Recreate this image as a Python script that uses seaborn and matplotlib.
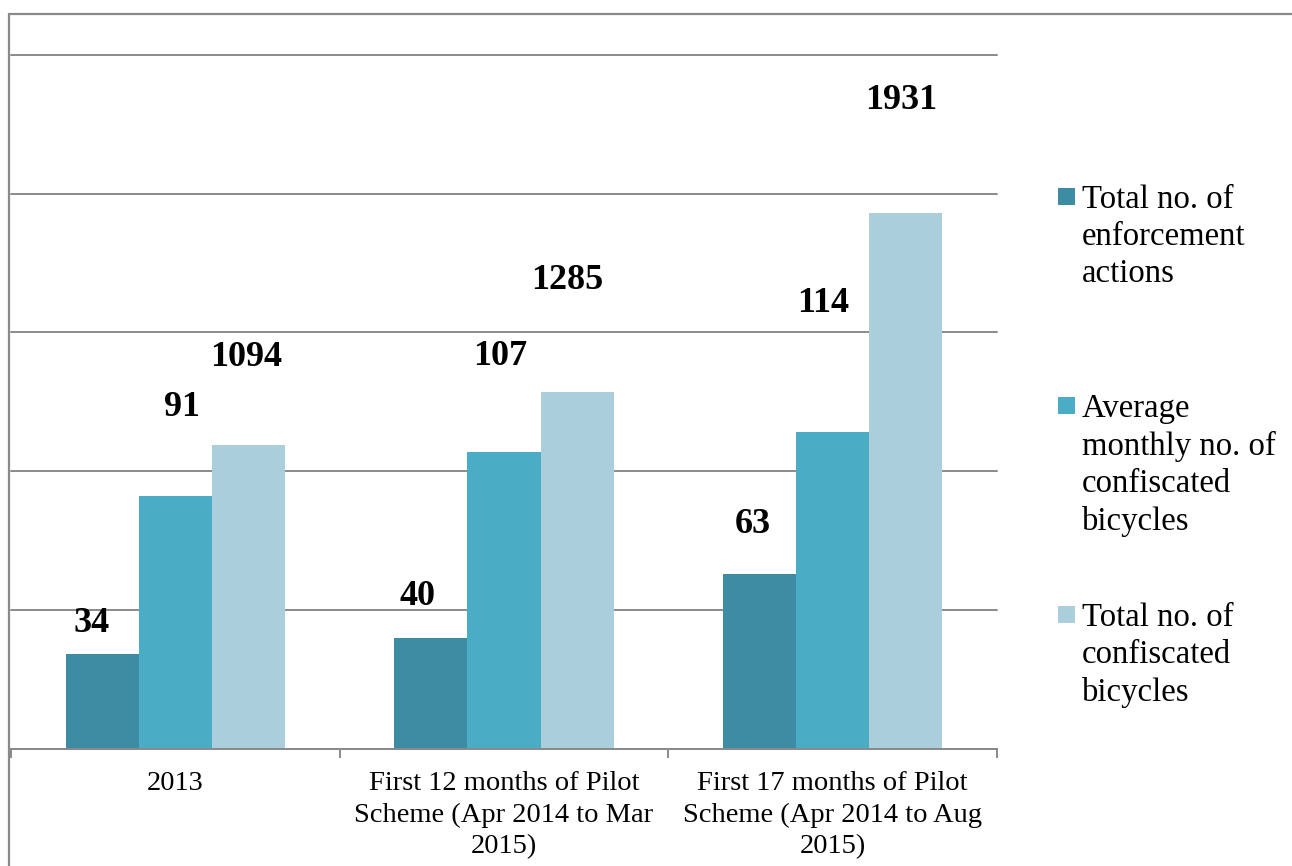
import pandas as pd
import seaborn as sns
import matplotlib.pyplot as plt
from matplotlib.patches import Rectangle
from matplotlib.lines import Line2D

# ---- data -------------------------------------------------------------
categories = [
    "2013",
    "First 12 months of Pilot\nScheme (Apr 2014 to Mar\n2015)",
    "First 17 months of Pilot\nScheme (Apr 2014 to Aug\n2015)",
]
series_names = [
    "Total no. of\nenforcement\nactions",
    "Average\nmonthly no. of\nconfiscated\nbicycles",
    "Total no. of\nconfiscated\nbicycles",
]
enforcement_actions = [34, 40, 63]
avg_monthly_confiscated = [91, 107, 114]
total_confiscated = [1094, 1285, 1931]

# totals share the axis with the other two series at one tenth of their value
total_scale = 0.1

colors = ["#3D8CA3", "#4BACC6", "#AACEDC"]

# hand-placed value labels: (dx, dy) in pixels from the top centre of each bar
label_nudges = [
    [(-11, 22), (-13, 33), (-7, 41)],
    [(7, 80), (-4, 87), (-10, 120)],
    [(-2, 79), (-10, 103), (-5, 104)],
]

# ---- figure -----------------------------------------------------------
sns.set_style("white")
plt.rcParams["font.family"] = ["Liberation Serif", "DejaVu Serif"]
plt.rcParams["text.color"] = "black"
plt.rcParams["xtick.labelcolor"] = "black"

W, H = 1292, 866
fig = plt.figure(figsize=(W / 100, H / 100), dpi=100)
ax = fig.add_axes([11 / W, (H - 748.5) / H, 986 / W, (748.5 - 55) / H])

values = [enforcement_actions, avg_monthly_confiscated,
          [v * total_scale for v in total_confiscated]]
labels = [enforcement_actions, avg_monthly_confiscated, total_confiscated]

df = pd.DataFrame({
    "category": [c for _ in series_names for c in categories],
    "series": [s for s in series_names for _ in categories],
    "value": [v for vals in values for v in vals],
})

sns.barplot(data=df, x="category", y="value", hue="series",
            order=categories, hue_order=series_names, palette=colors,
            saturation=1, width=0.667, errorbar=None, linewidth=0,
            legend=False, ax=ax, zorder=3)

grid_c = "#8A8A8A"
ax.set_xlim(-0.5, len(categories) - 0.5)
ax.set_ylim(0, 250)
ax.set_yticks([0, 50, 100, 150, 200, 250])
ax.yaxis.grid(True, color=grid_c, linewidth=1.4)
for gl in ax.get_ygridlines():
    gl.set_clip_on(False)
ax.set_axisbelow(True)
ax.tick_params(axis="y", length=0, labelleft=False)
ax.set_xlabel("")
ax.set_ylabel("")
for side in ["left", "right", "top"]:
    ax.spines[side].set_visible(False)
ax.spines["bottom"].set_color(grid_c)
ax.spines["bottom"].set_linewidth(1.4)
ax.spines["bottom"].set_zorder(4)

ax.set_xticks([i - 0.5 for i in range(len(categories) + 1)], minor=True)
ax.tick_params(axis="x", which="minor", bottom=True, length=6.5, width=1.4,
               color=grid_c, direction="out")
ax.tick_params(axis="x", which="major", bottom=True, length=0, pad=16.5,
               labelcolor="black")
ax.set_xticks(range(len(categories)))
ax.set_xticklabels(categories, fontsize=20.5, linespacing=1.33)

# value labels
for k, cont in enumerate(ax.containers):
    for j, bar in enumerate(cont):
        dx, dy = label_nudges[k][j]
        ax.annotate(str(labels[k][j]),
                    xy=(bar.get_x() + bar.get_width() / 2, bar.get_height()),
                    xytext=(dx, dy), textcoords="offset pixels",
                    ha="center", va="baseline", fontsize=26,
                    fontweight="bold", color="black", zorder=5)

# legend drawn as swatches beside wrapped labels
legend_baselines = [207, 416, 625]
legend_fs = 23.6
first_line_rise = 0.683 * legend_fs * 100 / 72
for name, col, yb in zip(series_names, colors, legend_baselines):
    fig.add_artist(Rectangle((1058 / W, 1 - (yb - 2) / H), 17 / W, 17 / H,
                             transform=fig.transFigure, facecolor=col,
                             edgecolor="none"))
    fig.text(1082 / W, 1 - (yb - first_line_rise) / H, name,
             fontsize=legend_fs, va="top", ha="left", linespacing=1.28,
             color="black")

# chart-area border
fig.add_artist(Line2D([9 / W, 9 / W], [0, 1 - 14 / H], color=grid_c,
                      linewidth=1.6, transform=fig.transFigure))
fig.add_artist(Line2D([9 / W, 1], [1 - 14 / H, 1 - 14 / H], color=grid_c,
                      linewidth=1.6, transform=fig.transFigure))

fig.savefig("out.png", dpi=100)
